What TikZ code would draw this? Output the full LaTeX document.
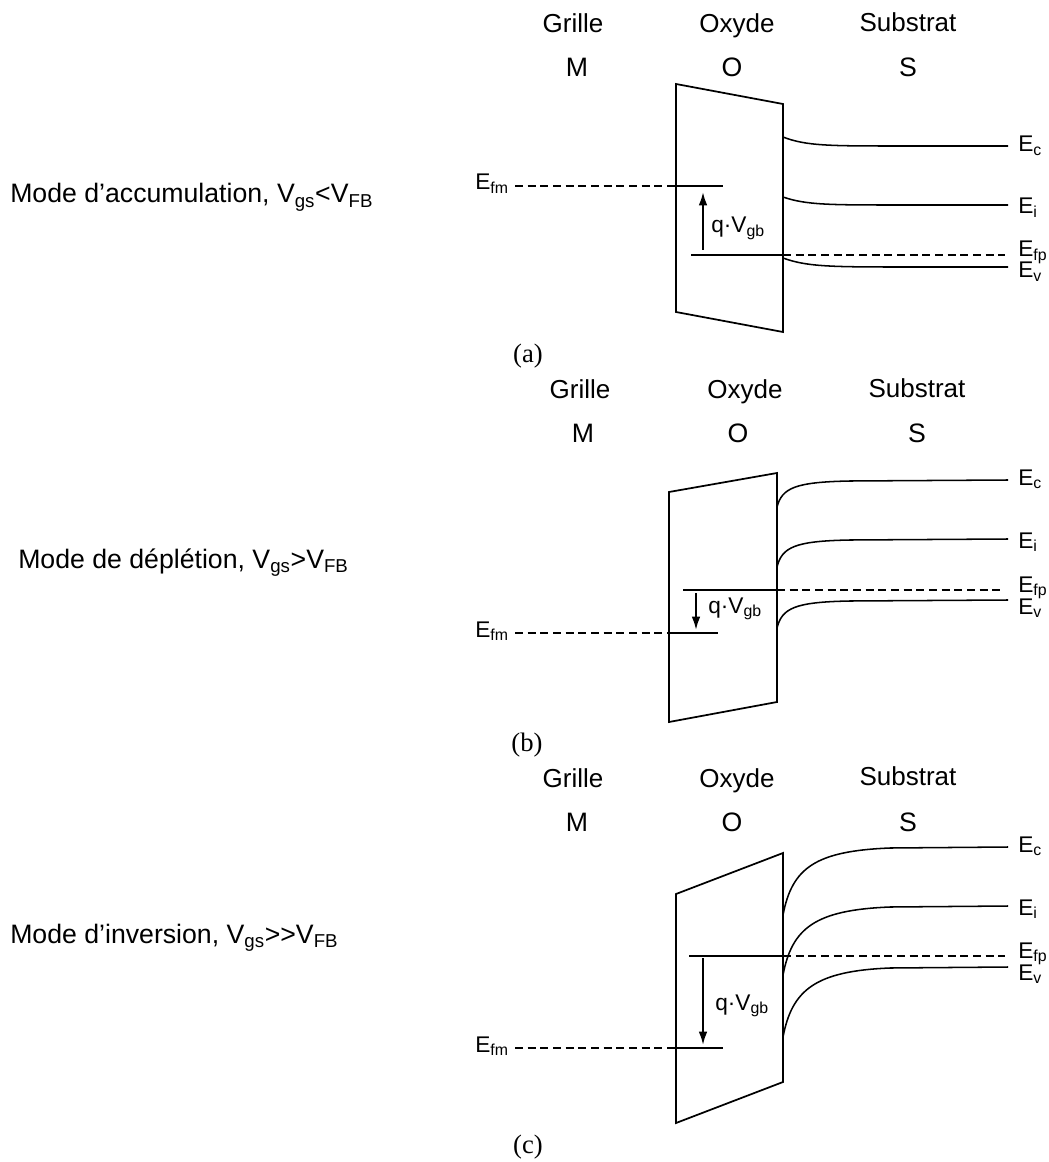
\documentclass[tikz,border=0pt]{standalone}
\usepackage{fontspec}
\setmainfont{Liberation Sans}
\newfontfamily\capfont{Liberation Serif}
\usetikzlibrary{arrows.meta}
\begin{document}
\begin{tikzpicture}[x=0.75pt,y=-0.75pt,
  hdr/.style={font=\fontsize{19.5}{22}\selectfont, anchor=base, inner sep=0},
  ltr/.style={font=\fontsize{20}{22}\selectfont, anchor=base, inner sep=0},
  lbl/.style={font=\fontsize{20}{22}\selectfont, anchor=base west, inner sep=0},
  elab/.style={font=\fontsize{17}{20}\selectfont, anchor=base west, inner sep=0},
  eflab/.style={font=\fontsize{17}{20}\selectfont, anchor=base east, inner sep=0},
  qlab/.style={font=\fontsize{17}{20}\selectfont, anchor=base west, inner sep=0},
  caplab/.style={font=\capfont\fontsize{20}{24}\selectfont, inner sep=0},
  oxbox/.style={line width=1.3pt, line join=miter},
  band/.style={line width=1.15pt},
  lvl/.style={line width=0.9pt},
  dsh/.style={line width=1.4pt, dash pattern=on 6pt off 3.5pt},
  arr/.style={line width=1.5pt, -{Latex[length=10pt,width=6.5pt]}},
]
\useasboundingbox (0,0) rectangle (1048,1162);

% ================= (a) =================
\node[hdr] (ga) at (573,33) {Grille};
\node[hdr] (oa) at (737,33) {Oxyde};
\node[hdr] (sa) at (908,32) {Substrat};
\node[ltr] (Ma) at (577,77) {M};
\node[ltr] (Oa) at (732,77) {O};
\node[ltr] (Sa) at (908,77) {S};
\node[lbl] (modea) at (10,203) {Mode d’accumulation, V\textsubscript{gs}<V\textsubscript{FB}};
\draw[oxbox] (676,84) -- (783,104) -- (783,332) -- (676,312) -- cycle;
\node[eflab] (efma) at (509,190) {E\textsubscript{fm}};
\draw[dsh] (515,186) -- (676,186);
\draw[lvl] (676,186) -- (723,186);
\coordinate (a1) at (703,250);
\coordinate (a2) at (703,192);
\draw[arr] (a1) -- (a2);
\node[qlab] (qa) at (711,233) {q·V\textsubscript{gb}};
\draw[lvl] (691,255) -- (783,255);
\draw[dsh] (783,255) -- (1005,255);
\draw[band] (783,137) .. controls (806,146) and (830,146) .. (900,146) -- (1008,146);
\draw[band] (783,197) .. controls (806,205) and (830,205) .. (900,205) -- (1008,205);
\draw[band] (783,258) .. controls (806,266.5) and (830,267) .. (900,267) -- (1008,267);
\node[elab] (eca) at (1018,152) {E\textsubscript{c}};
\node[elab] (eia) at (1018,214) {E\textsubscript{i}};
\node[elab] (efpa) at (1018,257) {E\textsubscript{fp}};
\node[elab] (eva) at (1018,278) {E\textsubscript{v}};
\node[caplab] (capa) at (528,356) {(a)};

% ================= (b) =================
\node[hdr] (gb) at (580,398) {Grille};
\node[hdr] (ob) at (745,398) {Oxyde};
\node[hdr] (sb) at (917,397) {Substrat};
\node[ltr] (Mb) at (583,442) {M};
\node[ltr] (Ob) at (738,442) {O};
\node[ltr] (Sb) at (917,442) {S};
\node[lbl] (modeb) at (18,568) {Mode de déplétion, V\textsubscript{gs}>V\textsubscript{FB}};
\draw[oxbox] (669,492) -- (777,473) -- (777,702) -- (669,722) -- cycle;
\node[eflab] (efmb) at (509,637) {E\textsubscript{fm}};
\draw[dsh] (515,633) -- (669,633);
\draw[lvl] (669,633) -- (718,633);
\coordinate (b1) at (696,593);
\coordinate (b2) at (696,630);
\draw[arr] (b1) -- (b2);
\node[qlab] (qb) at (708,613) {q·V\textsubscript{gb}};
\draw[lvl] (683,590) -- (777,590);
\draw[dsh] (777,590) -- (1005,590);
\draw[band] (777,507) .. controls (782,488) and (795,482) .. (850,481) -- (1008,480);
\draw[band] (777,567) .. controls (782,547) and (795,541) .. (850,540) -- (1008,539);
\draw[band] (777,628) .. controls (782,608) and (795,602) .. (850,601) -- (1008,600);
\node[elab] (ecb) at (1018,485) {E\textsubscript{c}};
\node[elab] (eib) at (1018,548) {E\textsubscript{i}};
\node[elab] (efpb) at (1018,592) {E\textsubscript{fp}};
\node[elab] (evb) at (1018,614) {E\textsubscript{v}};
\node[caplab] (capb) at (527,745) {(b)};

% ================= (c) =================
\node[hdr] (gc) at (573,787) {Grille};
\node[hdr] (oc) at (737,787) {Oxyde};
\node[hdr] (sc) at (908,785) {Substrat};
\node[ltr] (Mc) at (577,831) {M};
\node[ltr] (Oc) at (732,831) {O};
\node[ltr] (Sc) at (908,831) {S};
\node[lbl] (modec) at (10,943) {Mode d’inversion, V\textsubscript{gs}>{}>V\textsubscript{FB}};
\draw[oxbox] (676,894) -- (783,853) -- (783,1082) -- (676,1123) -- cycle;
\node[eflab] (efmc) at (509,1052) {E\textsubscript{fm}};
\draw[dsh] (515,1048) -- (676,1048);
\draw[lvl] (676,1048) -- (723,1048);
\coordinate (c1) at (703,958);
\coordinate (c2) at (703,1045);
\draw[arr] (c1) -- (c2);
\node[qlab] (qc) at (715,1010) {q·V\textsubscript{gb}};
\draw[lvl] (689,956) -- (783,956);
\draw[dsh] (783,956) -- (1005,956);
\draw[band] (783,915) .. controls (792,868) and (815,851) .. (890,848) -- (1008,847);
\draw[band] (783,975) .. controls (792,928) and (815,910) .. (890,907) -- (1008,906);
\draw[band] (783,1037) .. controls (792,990) and (815,971) .. (890,968) -- (1008,967);
\node[elab] (ecc) at (1018,852) {E\textsubscript{c}};
\node[elab] (eic) at (1018,915) {E\textsubscript{i}};
\node[elab] (efpc) at (1018,958) {E\textsubscript{fp}};
\node[elab] (evc) at (1018,980) {E\textsubscript{v}};
\node[caplab] (capc) at (528,1147) {(c)};
\end{tikzpicture}
\end{document}
